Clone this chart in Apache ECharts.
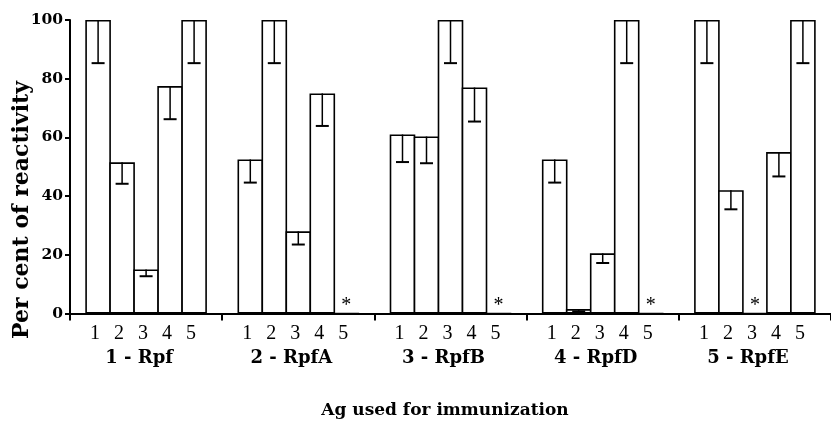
<!DOCTYPE html>
<html>
<head>
<meta charset="utf-8">
<script src="https://cdn.jsdelivr.net/npm/echarts@6/dist/echarts.min.js"></script>
<style>
html,body{margin:0;padding:0;background:#fff;}
#chart{width:831px;height:421px;}
</style>
</head>
<body>
<div id="chart"></div>
<script>
// Groups: serum raised against each antigen
const groups = ['1 - Rpf', '2 - RpfA', '3 - RpfB', '4 - RpfD', '5 - RpfE'];
// Antigens tested (bar labels within each group)
const barLabels = ['1', '2', '3', '4', '5'];
// Per cent of reactivity (0 = not detected, shown by *)
const rpf  = [100, 51.5, 15, 77.5, 100];
const rpfA = [52.5, 100, 28, 75, 0];
const rpfB = [61, 60.3, 100, 77, 0];
const rpfD = [52.5, 1.5, 20.5, 100, 0];
const rpfE = [100, 42, 0, 55, 100];
// Error (downward) magnitudes
const rpfErr  = [14.7, 7.3, 2.3, 11.3, 14.7];
const rpfAErr = [7.9, 14.7, 4.5, 11.1, 0];
const rpfBErr = [9.4, 9.1, 14.7, 11.6, 0];
const rpfDErr = [7.9, 0.8, 3.3, 14.7, 0];
const rpfEErr = [14.7, 6.5, 0, 8.3, 14.7];
// Y ticks
const yTicks = [0, 20, 40, 60, 80, 100];

const values = [rpf, rpfA, rpfB, rpfD, rpfE];
const errors = [rpfErr, rpfAErr, rpfBErr, rpfDErr, rpfEErr];

const STEP = 24;          // distance between neighbouring bar outlines
const LW = 1.6;           // outline width
const BAR_W = STEP + LW;  // ECharts draws the border inside the bar rect
const CAP = 6.5;

const barSeries = barLabels.map((lab, k) => ({
  type: 'bar',
  name: 'Ag ' + lab,
  data: values.map(g => g[k]),
  barWidth: BAR_W,
  barGap: (-LW / BAR_W * 100) + '%',
  itemStyle: { color: '#fff', borderColor: '#000', borderWidth: LW },
  label: {
    show: true,
    position: 'top',
    distance: -3,
    formatter: p => (p.value === 0 ? '*' : ''),
    fontFamily: 'Liberation Serif',
    fontSize: 20,
    color: '#000'
  },
  z: 2
}));

const errData = [];
values.forEach((g, gi) => g.forEach((v, k) => errData.push([gi, k, v, errors[gi][k]])));

const chart = echarts.init(document.getElementById('chart'), null, { renderer: 'canvas' });
chart.setOption({
  animation: false,
  backgroundColor: '#fff',
  grid: { left: 70, top: 20, height: 293.5, width: 770 },
  xAxis: {
    type: 'category',
    data: groups,
    axisLine: { lineStyle: { color: '#000', width: 2 } },
    axisTick: { show: true, interval: 0, length: 7, inside: false, lineStyle: { color: '#000', width: 2 } },
    axisLabel: {
      interval: 0,
      margin: 9,
      color: '#000',
      formatter: val => barLabels.map(b => '{d|' + b + '}').join('') + '{s1| }\n{g|' + val + '}{s2| }',
      rich: {
        d: { width: STEP, align: 'center', fontFamily: 'Liberation Serif', fontSize: 20, lineHeight: 22, color: '#000' },
        s1: { width: 6, align: 'center', fontSize: 20, lineHeight: 22 },
        g: { align: 'center', fontFamily: 'DejaVu Serif', fontWeight: 'bold', fontSize: 18, lineHeight: 27, color: '#000' },
        s2: { width: 14, align: 'center', fontSize: 18, lineHeight: 27 }
      }
    }
  },
  yAxis: {
    type: 'value',
    min: yTicks[0],
    max: yTicks[yTicks.length - 1],
    interval: 20,
    axisLine: { show: true, lineStyle: { color: '#000', width: 2 } },
    axisTick: { show: true, length: 5, lineStyle: { color: '#000', width: 2 } },
    splitLine: { show: false },
    axisLabel: { margin: 7, color: '#000', fontFamily: 'DejaVu Serif', fontWeight: 'bold', fontSize: 15.5 }
  },
  graphic: [
    {
      type: 'text', x: 22.5, y: 210, rotation: Math.PI / 2,
      style: { text: 'Per cent of reactivity', font: 'bold 22px "DejaVu Serif"', fill: '#000', textAlign: 'center', textVerticalAlign: 'middle' }
    },
    {
      type: 'text', x: 445, y: 410.5,
      style: { text: 'Ag used for immunization', font: 'bold 17px "DejaVu Serif"', fill: '#000', textAlign: 'center', textVerticalAlign: 'middle' }
    }
  ],
  series: barSeries.concat([{
    type: 'custom',
    name: 'error',
    data: errData,
    z: 5,
    renderItem: (params, api) => {
      const g = api.value(0), k = api.value(1), v = api.value(2), e = api.value(3);
      if (!e) return null;
      const top = api.coord([g, v]);
      const bot = api.coord([g, v - e]);
      const x = top[0] + (k - 2) * STEP;
      return {
        type: 'group',
        children: [
          { type: 'line', shape: { x1: x, y1: top[1], x2: x, y2: bot[1] }, style: { stroke: '#000', lineWidth: 1.5 } },
          { type: 'line', shape: { x1: x - CAP, y1: bot[1], x2: x + CAP, y2: bot[1] }, style: { stroke: '#000', lineWidth: 2 } }
        ]
      };
    }
  }])
});
</script>
</body>
</html>
